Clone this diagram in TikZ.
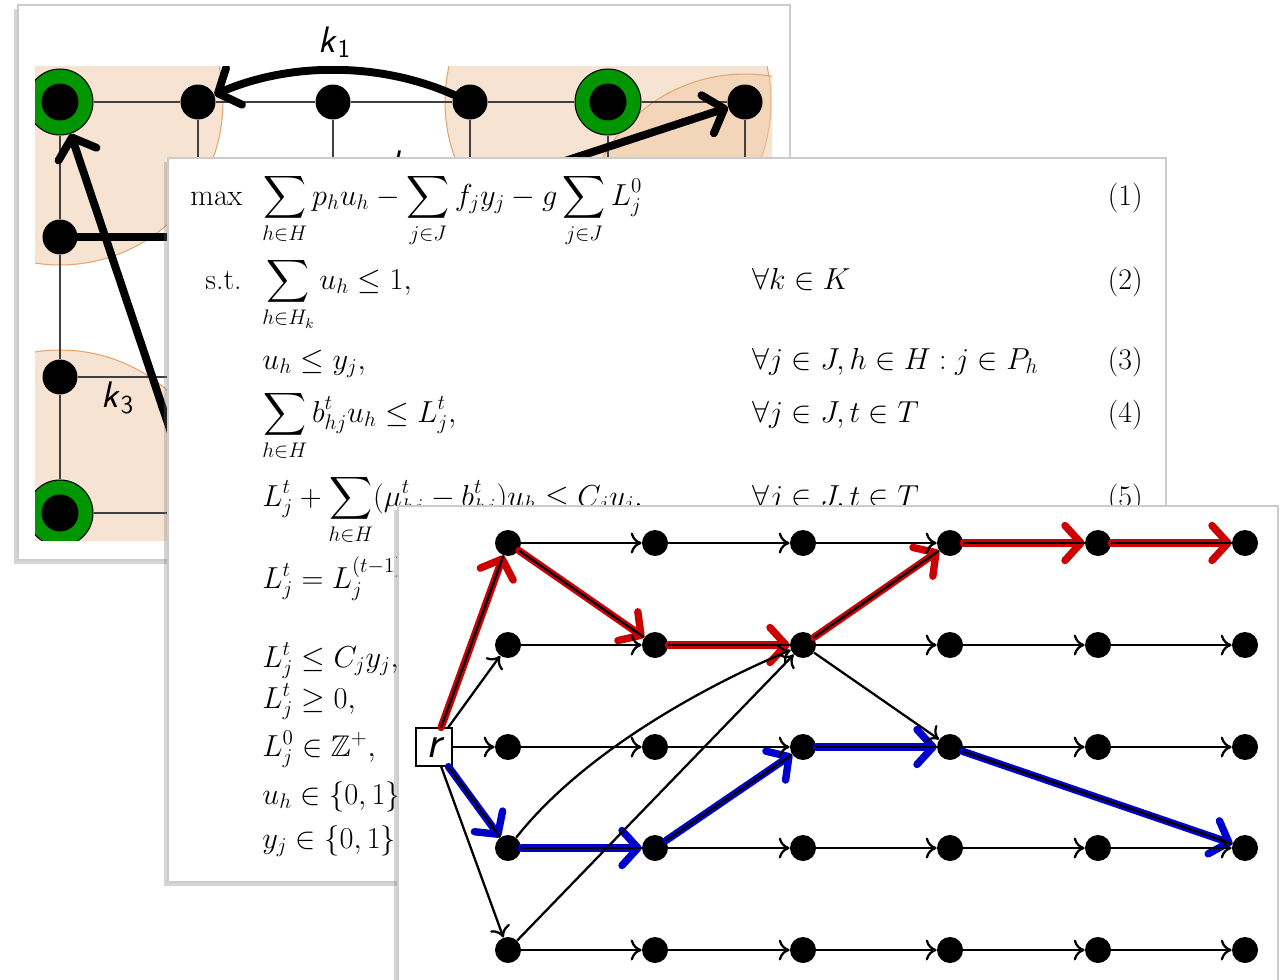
\documentclass[tikz,border=0pt]{standalone}
\usepackage{amsmath,amssymb}
\usetikzlibrary{arrows.meta,shadows}
\definecolor{zonefill}{RGB}{240,200,165}
\definecolor{zoneline}{RGB}{228,165,110}
\definecolor{ringgreen}{RGB}{0,150,0}
\definecolor{pathred}{RGB}{204,0,0}
\definecolor{pathblue}{RGB}{0,0,204}
\begin{document}
\begin{tikzpicture}[x=0.02cm,y=-0.02cm]
\tikzset{
  panel/.style={draw=black!20,fill=white,line width=0.8pt,drop shadow={shadow xshift=-2.5pt,shadow yshift=-2.5pt,opacity=0.3,fill=black!55}},
  zone/.style={draw=zoneline,line width=0.6pt,fill=zonefill,fill opacity=0.5},
  gridline/.style={line width=0.9pt,draw=black!75},
  hub/.style={circle,fill=black,minimum size=0.7cm,inner sep=0pt},
  depot/.style={circle,draw=black,line width=0.6pt,fill=ringgreen,minimum size=1.32cm,inner sep=0pt,
    path picture={\fill[black] (path picture bounding box.center) circle[radius=0.37cm];}},
  route/.style={line width=4.5pt,line cap=round,-{Straight Barb[length=0.35cm,width=0.8cm,round]}},
  zonelabel/.style={font=\fontsize{21}{21}\selectfont\sffamily},
  eqline/.style={anchor=base west,inner sep=0pt,font=\fontsize{17}{20}\selectfont},
  eqnum/.style={anchor=base east,inner sep=0pt,font=\fontsize{17}{20}\selectfont},
  state/.style={circle,fill=black,minimum size=0.52cm,inner sep=0pt},
  root/.style={draw,fill=white,line width=0.7pt,minimum width=0.72cm,minimum height=0.76cm,inner sep=0pt,font=\fontsize{26}{26}\selectfont\sffamily\itshape},
  flow/.style={line width=1.3pt,-{Computer Modern Rightarrow[length=0.22cm,width=0.42cm]}},
  core/.style={line width=1.3pt},
  redroute/.style={draw=pathred,line width=4.2pt,line cap=round,-{Straight Barb[length=0.32cm,width=0.7cm,round]}},
  blueroute/.style={redroute,draw=pathblue}
}
\useasboundingbox (0,0) rectangle (1281,980);
\clip (0,0) rectangle (1281,980);

% back sheet: grid network
\path[panel] (18,5) rectangle (790,560);
\begin{scope}
\clip (35,67) rectangle (772,540);
\path[zone] (60,102) circle[radius=3.26cm];
\path[zone] (608,102) circle[radius=3.26cm];
\path[zone] (745,237) circle[radius=3.26cm];
\path[zone] (60,513) circle[radius=3.26cm];
\node[depot] (n_a1) at (60,102) {};
\node[hub] (n_a2) at (198,102) {};
\node[hub] (n_a3) at (333,102) {};
\node[hub] (n_a4) at (470,102) {};
\node[depot] (n_a5) at (608,102) {};
\node[hub] (n_a6) at (745,102) {};
\node[hub] (n_b1) at (60,237) {};
\node[hub] (n_c1) at (60,377) {};
\node[depot] (n_d1) at (60,513) {};
\coordinate (g_b3) at (333,237);
\coordinate (g_b6) at (745,237);
\coordinate (g_c6) at (745,377);
\coordinate (g_d2) at (198,513);
\coordinate (g_d3) at (333,513);
\coordinate (g_d4) at (470,513);
\coordinate (g_d5) at (608,513);
\coordinate (g_d6) at (745,513);
\draw[gridline] (n_a1) -- (n_a2);
\draw[gridline] (n_a2) -- (n_a3);
\draw[gridline] (n_a3) -- (n_a4);
\draw[gridline] (n_a4) -- (n_a5);
\draw[gridline] (n_a5) -- (n_a6);
\draw[gridline] (n_a1) -- (n_b1);
\draw[gridline] (n_b1) -- (n_c1);
\draw[gridline] (n_c1) -- (n_d1);
\draw[gridline] (n_b1) -- (g_b6);
\draw[gridline] (n_c1) -- (g_c6);
\draw[gridline] (n_d1) -- (g_d6);
\draw[gridline] (n_a2) -- (g_d2);
\draw[gridline] (n_a3) -- (g_d3);
\draw[gridline] (n_a4) -- (g_d4);
\draw[gridline] (n_a5) -- (g_d5);
\draw[gridline] (n_a6) -- (g_d6);
\draw[route] (n_a4) .. controls (380,62) and (290,62) .. (n_a2);
\draw[route] (g_b3) -- (n_a6);
\draw[route] (g_d2) -- (n_a1);
\draw[route,-] (n_b1) -- (g_b3);
\node[zonelabel] (l_k3) at (118,398) {$\textsf{\textit{k}}_{\textsf{3}}$};
\end{scope}
\node[zonelabel] (l_k1) at (335,42) {$\textsf{\textit{k}}_{\textsf{1}}$};
\node[zonelabel,anchor=base west] (l_k2) at (384,176) {$\textsf{\textit{k}}_{\textsf{2}}$};

% middle sheet: the model
\path[panel] (168,158) rectangle (1166,882);
\node[eqline] (e_max) at (190,205) {$\max$};
\node[eqline] (e_obj) at (262,205) {$\displaystyle\sum_{h\in H} p_h u_h - \sum_{j\in J} f_j y_j - g\sum_{j\in J} L_j^0$};
\node[eqnum] (e_n1) at (1143,205) {(1)};
\node[eqline] (e_st) at (205,289) {s.t.};
\node[eqline] (e_c2) at (262,289) {$\displaystyle\sum_{h\in H_k} u_h \le 1,$};
\node[eqline] (e_q2) at (752,289) {$\forall k\in K$};
\node[eqnum] (e_n2) at (1143,289) {(2)};
\node[eqline] (e_c3) at (262,369) {$u_h \le y_j,$};
\node[eqline] (e_q3) at (752,369) {$\forall j\in J, h\in H : j\in P_h$};
\node[eqnum] (e_n3) at (1143,369) {(3)};
\node[eqline] (e_c4) at (262,422) {$\displaystyle\sum_{h\in H} b_{hj}^t u_h \le L_j^t,$};
\node[eqline] (e_q4) at (752,422) {$\forall j\in J, t\in T$};
\node[eqnum] (e_n4) at (1143,422) {(4)};
\node[eqline] (e_c5) at (262,506) {$\displaystyle L_j^t + \sum_{h\in H}(\mu_{hj}^t - b_{hj}^t) u_h \le C_j y_j,$};
\node[eqline] (e_q5) at (752,506) {$\forall j\in J, t\in T$};
\node[eqnum] (e_n5) at (1143,506) {(5)};
\node[eqline] (e_c6) at (262,588) {$L_j^t = L_j^{(t-1)}$};
\node[eqline] (e_c7) at (262,667) {$L_j^t \le C_j y_j,$};
\node[eqline] (e_c8) at (262,708) {$L_j^t \ge 0,$};
\node[eqline] (e_c9) at (262,756) {$L_j^0 \in \mathbb{Z}^+,$};
\node[eqline] (e_c10) at (262,804) {$u_h \in \{0,1\},$};
\node[eqline] (e_c11) at (262,848) {$y_j \in \{0,1\},$};

% front sheet: time-expanded paths
\path[panel] (398,506) rectangle (1278,1000);
\node[root] (r) at (434,747) {r};
\node[state] (v11) at (508,543) {};
\node[state] (v12) at (655,543) {};
\node[state] (v13) at (803,543) {};
\node[state] (v14) at (950,543) {};
\node[state] (v15) at (1098,543) {};
\node[state] (v16) at (1245,543) {};
\node[state] (v21) at (508,645) {};
\node[state] (v22) at (655,645) {};
\node[state] (v23) at (803,645) {};
\node[state] (v24) at (950,645) {};
\node[state] (v25) at (1098,645) {};
\node[state] (v26) at (1245,645) {};
\node[state] (v31) at (508,747) {};
\node[state] (v32) at (655,747) {};
\node[state] (v33) at (803,747) {};
\node[state] (v34) at (950,747) {};
\node[state] (v35) at (1098,747) {};
\node[state] (v36) at (1245,747) {};
\node[state] (v41) at (508,848) {};
\node[state] (v42) at (655,848) {};
\node[state] (v43) at (803,848) {};
\node[state] (v44) at (950,848) {};
\node[state] (v45) at (1098,848) {};
\node[state] (v46) at (1245,848) {};
\node[state] (v51) at (508,950) {};
\node[state] (v52) at (655,950) {};
\node[state] (v53) at (803,950) {};
\node[state] (v54) at (950,950) {};
\node[state] (v55) at (1098,950) {};
\node[state] (v56) at (1245,950) {};
% highlighted paths
\draw[redroute] (r) -- (v11);
\draw[redroute] (v11) -- (v22);
\draw[redroute] (v22) -- (v23);
\draw[redroute] (v23) -- (v14);
\draw[redroute] (v14) -- (v15);
\draw[redroute] (v15) -- (v16);
\draw[blueroute] (r) -- (v41);
\draw[blueroute] (v41) -- (v42);
\draw[blueroute] (v42) -- (v33);
\draw[blueroute] (v33) -- (v34);
\draw[blueroute] (v34) -- (v46);
\draw[core] (r) -- (v11);
\draw[core] (v11) -- (v22);
\draw[core] (v22) -- (v23);
\draw[core] (v23) -- (v14);
\draw[core] (v14) -- (v15);
\draw[core] (v15) -- (v16);
\draw[core] (r) -- (v41);
\draw[core] (v41) -- (v42);
\draw[core] (v42) -- (v33);
\draw[core] (v33) -- (v34);
\draw[core] (v34) -- (v46);
% other arcs
\draw[flow] (r) -- (v21);
\draw[flow] (r) -- (v31);
\draw[flow] (r) -- (v51);
\draw[flow] (v11) -- (v12);
\draw[flow] (v12) -- (v13);
\draw[flow] (v13) -- (v14);
\draw[flow] (v21) -- (v22);
\draw[flow] (v23) -- (v24);
\draw[flow] (v24) -- (v25);
\draw[flow] (v25) -- (v26);
\draw[flow] (v31) -- (v32);
\draw[flow] (v32) -- (v33);
\draw[flow] (v34) -- (v35);
\draw[flow] (v35) -- (v36);
\draw[flow] (v42) -- (v43);
\draw[flow] (v43) -- (v44);
\draw[flow] (v44) -- (v45);
\draw[flow] (v45) -- (v46);
\draw[flow] (v51) -- (v52);
\draw[flow] (v52) -- (v53);
\draw[flow] (v53) -- (v54);
\draw[flow] (v54) -- (v55);
\draw[flow] (v55) -- (v56);
\draw[flow] (v41) .. controls (582,754) and (702,687) .. (v23);
\draw[flow] (v51) -- (v23);
\draw[flow] (v23) -- (v34);
\end{tikzpicture}
\end{document}
